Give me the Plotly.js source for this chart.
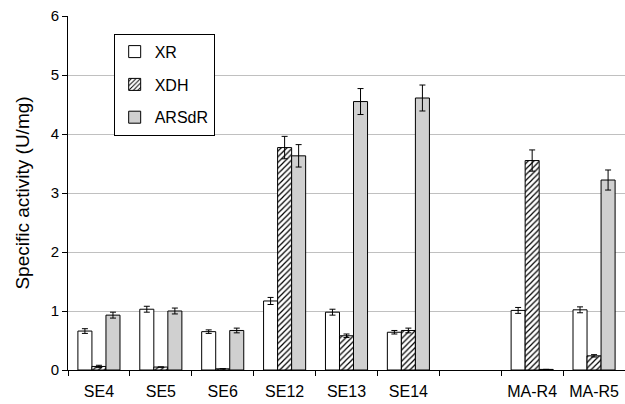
<!DOCTYPE html>
<html><head><meta charset="utf-8">
<script src="https://cdn.plot.ly/plotly-3.0.1.min.js"></script>
<style>html,body{margin:0;padding:0;background:#fff}</style>
</head><body><div id="chart" style="width:625px;height:404px"></div>
<script>
const categories = ["SE4","SE5","SE6","SE12","SE13","SE14","","MA-R4","MA-R5"];
const xr      = [0.66, 1.03, 0.65, 1.17, 0.98, 0.64, null, 1.01, 1.02];
const xrErr   = [0.04, 0.05, 0.03, 0.06, 0.05, 0.03, null, 0.05, 0.05];
const xdh     = [0.06, 0.05, 0.02, 3.77, 0.58, 0.67, null, 3.55, 0.24];
const xdhErr  = [0.02, 0.00, 0.00, 0.19, 0.03, 0.04, null, 0.18, 0.02];
const arsdr   = [0.93, 1.00, 0.67, 3.63, 4.55, 4.61, null, 0.01, 3.22];
const arsdrErr= [0.05, 0.05, 0.04, 0.19, 0.22, 0.22, null, 0.00, 0.17];

const xpos = categories.map((c,i)=>i);
const errStyle = arr => ({type:'data', array:arr, visible:true, color:'#000', thickness:1, width:3});
const traces = [
  {type:'bar', name:'XR', x:xpos, y:xr, error_y:errStyle(xrErr), legendgroup:'a',
   marker:{color:'#ffffff', line:{color:'#000', width:1}}},
  {type:'bar', name:'XDH', x:xpos, y:xdh, error_y:errStyle(xdhErr), legendgroup:'b',
   marker:{color:'#ffffff', line:{color:'#000', width:1},
     pattern:{shape:'/', fgcolor:'#000', bgcolor:'#ffffff', size:4, solidity:0.3}}},
  {type:'bar', name:'ARSdR', x:xpos, y:arsdr, error_y:errStyle(arsdrErr), legendgroup:'c',
   marker:{color:'#d0d0d0', line:{color:'#000', width:1}}}
];
const layout = {
  width:625, height:404,
  margin:{l:68, r:0, t:16, b:34},
  paper_bgcolor:'#fff', plot_bgcolor:'#fff',
  font:{family:'"Liberation Sans", Arial, sans-serif', size:14, color:'#000'},
  barmode:'group', bargap:0.32, bargroupgap:0,
  xaxis:{range:[-0.5,8.5], tickvals:xpos, ticktext:categories, ticks:'outside', ticklen:7,
    tickcolor:'rgba(0,0,0,0)', showgrid:false,
    zeroline:false, showline:true, linecolor:'#000', linewidth:1,
    minor:{tick0:-0.5, dtick:1, ticks:'outside', ticklen:5, tickcolor:'#000', showgrid:false},
    tickfont:{size:16}},
  yaxis:{range:[0,6], dtick:1, ticks:'outside', ticklen:5, tickcolor:'#000',
    showline:true, linecolor:'#000', linewidth:1, zeroline:false,
    gridcolor:'#c0c0c0', gridwidth:1, tickfont:{size:15},
    title:{text:'Specific activity (U/mg)', font:{size:19}, standoff:16}},
  showlegend:true,
  legend:{x:0.082, y:0.95, xanchor:'left', yanchor:'top', bgcolor:'#fff',
    bordercolor:'#000', borderwidth:1, traceorder:'grouped', tracegroupgap:9,
    font:{size:16}, itemwidth:30}
};
Plotly.newPlot('chart', traces, layout, {displayModeBar:false, staticPlot:true});
</script></body></html>
